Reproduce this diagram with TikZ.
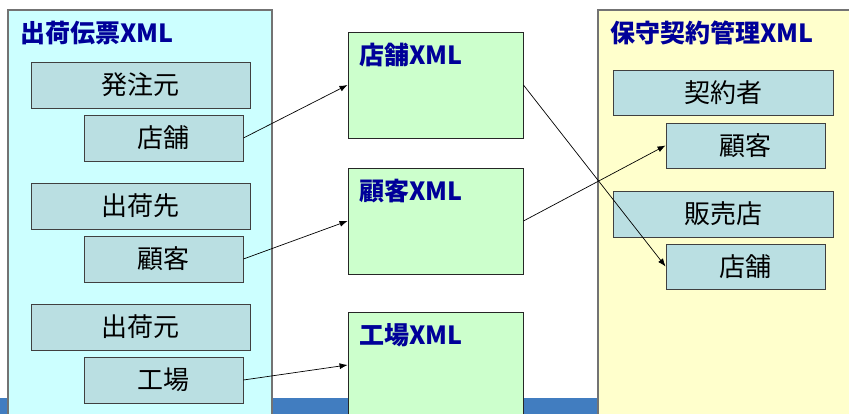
\documentclass[tikz,border=0pt]{standalone}
\usepackage{fontspec}
\newfontfamily\jp{Noto Sans CJK JP}
\usetikzlibrary{arrows.meta}
\definecolor{shipcyan}{HTML}{CCFFFF}
\definecolor{contractyellow}{HTML}{FFFFCC}
\definecolor{xmlgreen}{HTML}{CCFFCC}
\definecolor{fieldblue}{HTML}{BADFE2}
\definecolor{titleblue}{HTML}{000099}
\definecolor{barblue}{HTML}{417DC0}
\tikzset{
  panel/.style={draw=black!55, line width=1.2pt, inner sep=0pt},
  field/.style={draw=black!75, fill=fieldblue, line width=0.9pt, minimum height=46pt, inner sep=0pt, font=\jp\fontsize{26}{26}\selectfont},
  widefield/.style={field, minimum width=219pt},
  subfield/.style={field, minimum width=159pt},
  xmlbox/.style={draw=black!85, fill=xmlgreen, line width=0.9pt, minimum width=175pt, minimum height=106pt, inner sep=0pt},
  title/.style={anchor=west, text=titleblue, inner sep=0pt, font=\jp\bfseries\fontsize{25}{25}\selectfont},
  link/.style={draw, line width=0.7pt, -{Latex[length=8pt,width=6pt]}}
}
\begin{document}
\begin{tikzpicture}[x=1pt,y=-1pt]
\useasboundingbox (0,0) rectangle (849,414);
\clip (0,0) rectangle (849,414);
\fill[barblue] (0,398) rectangle (849,414);

\node[panel, fill=shipcyan, minimum width=264pt, minimum height=440pt] (ship) at (140,230) {};
\node[title] (shiptitle) at (20,33) {出荷伝票XML};
\node[widefield] (orderer) at (140.5,85) {発注元};
\node[subfield] (shop1) at (163.5,138) {店舗};
\node[widefield] (dest) at (140.5,206) {出荷先};
\node[subfield] (cust1) at (163.5,259) {顧客};
\node[widefield] (origin) at (140.5,327) {出荷元};
\node[subfield] (factory1) at (163.5,380) {工場};

\node[xmlbox] (shopxml) at (435.5,85) {};
\node[title] (shopxmltitle) at (359,55) {店舗XML};
\node[xmlbox] (custxml) at (435.5,221) {};
\node[title] (custxmltitle) at (359,191) {顧客XML};
\node[xmlbox] (factoryxml) at (435.5,365) {};
\node[title] (factoryxmltitle) at (359,335) {工場XML};

\node[panel, fill=contractyellow, minimum width=280pt, minimum height=440pt] (contract) at (738,230) {};
\node[title] (contracttitle) at (610,33) {保守契約管理XML};
\node[widefield, minimum width=220pt, minimum height=45pt] (holder) at (723,92.5) {契約者};
\node[subfield, minimum height=45pt] (cust2) at (745.5,145.5) {顧客};
\node[widefield, minimum width=220pt] (dealer) at (723,214) {販売店};
\node[subfield, minimum height=45pt] (shop2) at (745.5,266.5) {店舗};

\path[link] (shop1.east) -- (shopxml.west);
\path[link] (cust1.east) -- (custxml.west);
\path[link] (factory1.east) -- (factoryxml.west);
\path[link] (shopxml.east) -- (shop2.west);
\path[link] (custxml.east) -- (cust2.west);
\end{tikzpicture}
\end{document}
